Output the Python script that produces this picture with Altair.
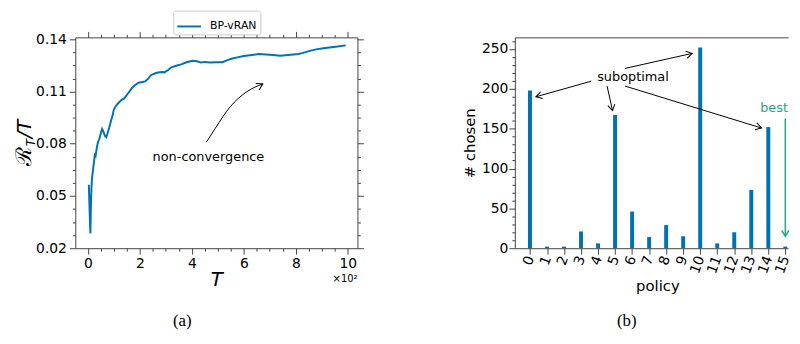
import altair as alt
import pandas as pd

# ---------------- data ----------------
T_HUNDREDS = [0.04, 0.07, 0.10, 0.12, 0.14, 0.16, 0.20, 0.27, 0.30, 0.35, 0.39, 0.45, 0.50, 0.55,
              0.60, 0.66, 0.71, 0.76, 0.82, 0.88, 0.95, 1.00, 1.05, 1.15, 1.30, 1.40, 1.50, 1.60,
              1.70, 1.80, 1.95, 2.10, 2.20, 2.30, 2.44, 2.60, 2.70, 2.85, 2.95, 3.10, 3.21, 3.40,
              3.59, 3.80, 4.03, 4.20, 4.35, 4.50, 4.70, 4.92, 5.17, 5.30, 5.49, 5.75, 6.00, 6.30,
              6.57, 6.85, 7.14, 7.40, 7.60, 7.90, 8.10, 8.28, 8.50, 8.78, 9.00, 9.29, 9.60, 9.92]
REGRET = [0.0564, 0.0420, 0.0285, 0.0450, 0.0540, 0.0598, 0.0650, 0.0735, 0.0730, 0.0780, 0.0807,
          0.0830, 0.0860, 0.0885, 0.0870, 0.0845, 0.0838, 0.0860, 0.0890, 0.0925, 0.0960, 0.0995,
          0.1010, 0.1030, 0.1052, 0.1060, 0.1080, 0.1100, 0.1120, 0.1135, 0.1150, 0.1155, 0.1158,
          0.1170, 0.1195, 0.1205, 0.1209, 0.1212, 0.1210, 0.1225, 0.1239, 0.1248, 0.1256, 0.1268,
          0.1277, 0.1274, 0.1266, 0.1270, 0.1266, 0.1268, 0.1268, 0.1276, 0.1287, 0.1296, 0.1304,
          0.1310, 0.1315, 0.1313, 0.1309, 0.1305, 0.1308, 0.1313, 0.1315, 0.1322, 0.1332, 0.1342,
          0.1347, 0.1353, 0.1358, 0.1365]
SERIES = "BP-vRAN"

POLICIES = list(range(16))
CHOSEN = [198, 2, 2, 21, 6, 167, 46, 14, 29, 15, 252, 6, 20, 73, 152, 2]

# curved "non-convergence" arrow (data coordinates of panel a)
NC_X = [4.56, 4.90, 5.48, 6.12, 6.73]
NC_Y = [0.0809, 0.0888, 0.1013, 0.1099, 0.1144]
NC_LABEL = "non-convergence"
NC_LABEL_POS = (4.64, 0.0723)

# "suboptimal" arrows (data coordinates of panel b)
SUB_X0 = [3.60, 4.53, 5.58, 5.58]
SUB_Y0 = [209.6, 203.5, 225.6, 203.5]
SUB_X1 = [0.35, 4.85, 9.53, 13.60]
SUB_Y1 = [190.0, 172.6, 244.5, 150.8]
SUB_ANGLE = [164, 78, 347, 17]
SUB_LABEL = "suboptimal"
SUB_LABEL_POS = (6.05, 214.5)

BEST_LABEL = "best"
BEST_LABEL_POS = (15.16, 176)
BEST_ARROW = (15, 162.7, 15, 15.0)

# ---------------- style ----------------
BLUE = "#0072B2"
GREEN = "#2aa57f"
FONT = "DejaVu Sans"
AX = "#444444"
W1, H1 = 285, 213
W2, H2 = 276, 213
XD1 = [-0.48, 10.37]
YD1 = [0.02, 0.1411]
XD2 = [-0.89, 15.16]
YD2 = [0, 264.6]
CHEVRON = "M-1,-0.6L0,0L-1,0.6"

x1_vals = [i * 0.5 for i in range(21)]
y1_vals = [round(0.02 + i * 0.0075, 4) for i in range(17)]
y2_vals = list(range(0, 261, 10))

x1_major = "datum.value % 2 == 0"
y1_major = "abs((datum.value - 0.02) / 0.03 - round((datum.value - 0.02) / 0.03)) < 0.01"
y2_major = "datum.value % 50 == 0"

xs1 = alt.Scale(domain=XD1, nice=False, zero=False)
ys1 = alt.Scale(domain=YD1, nice=False, zero=False)
xs2 = alt.Scale(domain=XD2, nice=False, zero=False, padding=0)
ys2 = alt.Scale(domain=YD2, nice=False, zero=False, padding=0)

common_axis = dict(grid=False, domain=True, ticks=True, domainColor=AX, tickColor=AX,
                   domainWidth=1, tickWidth=1, domainOpacity=1, tickOpacity=1, zindex=1,
                   labelColor="black", labelFont=FONT, labelFontSize=14, titleFont=FONT,
                   titleColor="black", titleFontWeight="normal", labelFlush=False,
                   labelOverlap=False)

legend_common = dict(title=None, orient="none", legendX=99, legendY=-27,
                     labelFont=FONT, labelFontSize=11, labelColor="black", labelOffset=8,
                     strokeColor="#cccccc", fillColor="white", padding=3, cornerRadius=2)

# ---------------- panel (a) ----------------
line_df = pd.DataFrame({"t": T_HUNDREDS, "r": REGRET, "series": SERIES})

line = alt.Chart(line_df).mark_line(strokeWidth=2).encode(
    x=alt.X("t:Q", scale=xs1, axis=alt.Axis(
        orient="bottom", values=x1_vals, title="T", titleFontSize=20, titleFontStyle="italic",
        titlePadding=0,
        labelExpr=f"{x1_major} ? format(datum.value, 'd') : ''",
        tickSize={"condition": {"test": x1_major, "value": 6}, "value": 3},
        labelPadding=2, **common_axis)),
    y=alt.Y("r:Q", scale=ys1, axis=alt.Axis(
        orient="left", values=y1_vals, title=None,
        labelExpr=f"{y1_major} ? format(datum.value, '.2f') : ''",
        tickSize={"condition": {"test": y1_major, "value": 6}, "value": 3},
        labelPadding=3, **common_axis)),
    color=alt.Color("series:N", scale=alt.Scale(domain=[SERIES], range=[BLUE]),
                    legend=alt.Legend(symbolType="stroke", symbolSize=576, symbolStrokeWidth=2,
                                      **legend_common)),
)

mirror = alt.Chart(line_df).mark_line(opacity=0).encode(
    x=alt.X("t:Q", scale=xs1, axis=alt.Axis(
        orient="top", values=x1_vals, title=None, labels=False,
        tickSize={"condition": {"test": x1_major, "value": 6}, "value": 3}, **common_axis)),
    y=alt.Y("r:Q", scale=ys1, axis=alt.Axis(
        orient="right", values=y1_vals, title=None, labels=False,
        tickSize={"condition": {"test": y1_major, "value": 6}, "value": 3}, **common_axis)),
)

nc_df = pd.DataFrame({"x": NC_X, "y": NC_Y, "o": list(range(len(NC_X)))})
nc_curve = alt.Chart(nc_df).mark_line(color="black", strokeWidth=1, interpolate="monotone").encode(
    x=alt.X("x:Q", scale=xs1, axis=None), y=alt.Y("y:Q", scale=ys1, axis=None), order="o:Q")
nc_head_df = pd.DataFrame({"x": [NC_X[-1]], "y": [NC_Y[-1]], "a": [332]})
nc_head = alt.Chart(nc_head_df).mark_point(shape=CHEVRON, size=144, filled=False, color="black",
                                           strokeWidth=1, opacity=1).encode(
    x=alt.X("x:Q", scale=xs1, axis=None), y=alt.Y("y:Q", scale=ys1, axis=None),
    angle=alt.Angle("a:Q", scale=None))
nc_text = alt.Chart(pd.DataFrame({"x": [NC_LABEL_POS[0]], "y": [NC_LABEL_POS[1]], "t": [NC_LABEL]})
                    ).mark_text(font=FONT, fontSize=13, color="black").encode(
    x=alt.X("x:Q", scale=xs1, axis=None), y=alt.Y("y:Q", scale=ys1, axis=None), text="t:N")

one = pd.DataFrame({"k": [0]})
ytitle_R = alt.Chart(one).mark_text(text="ℛ", font="DejaVu Serif", fontSize=22, angle=270,
                                    align="left", baseline="alphabetic", color="black").encode(
    x=alt.value(-45), y=alt.value(130))
ytitle_sub = alt.Chart(one).mark_text(text="T", font=FONT, fontSize=12, fontStyle="italic", angle=270,
                                      align="left", baseline="alphabetic", color="black").encode(
    x=alt.value(-41), y=alt.value(110))
ytitle_rest = alt.Chart(one).mark_text(text="/T", font=FONT, fontSize=20, fontStyle="italic", angle=270,
                                       align="left", baseline="alphabetic", color="black").encode(
    x=alt.value(-45), y=alt.value(102))
xscale_note = alt.Chart(one).mark_text(text="×10²", font=FONT, fontSize=10, align="right",
                                       baseline="middle", color="black").encode(
    x=alt.value(W1), y=alt.value(H1 + 31))
cap_a = alt.Chart(one).mark_text(text="(a)", font="Liberation Serif", fontSize=17,
                                 baseline="middle", color="black").encode(
    x=alt.value(108), y=alt.value(287))

panel_a = alt.layer(line, mirror, nc_curve, nc_head, nc_text, ytitle_R, ytitle_sub, ytitle_rest,
                    xscale_note, cap_a).resolve_axis(x="independent", y="independent").properties(
    width=W1, height=H1)

# ---------------- panel (b) ----------------
bar_df = pd.DataFrame({"policy": POLICIES, "chosen": CHOSEN, "series": SERIES})
bars = alt.Chart(bar_df).mark_bar(size=4).encode(
    x=alt.X("policy:Q", scale=xs2, axis=alt.Axis(
        orient="bottom", values=POLICIES, title="policy", titleFontSize=15, titleX=144,
        labelAngle=290, labelAlign="right", labelBaseline="middle", tickSize=6, labelPadding=2,
        format="d", **common_axis)),
    y=alt.Y("chosen:Q", scale=ys2, axis=alt.Axis(
        orient="left", values=y2_vals, title="# chosen", titleFontSize=15,
        labelExpr=f"{y2_major} ? format(datum.value, 'd') : ''",
        tickSize={"condition": {"test": y2_major, "value": 6}, "value": 3},
        labelPadding=1, **common_axis)),
    color=alt.Color("series:N", scale=alt.Scale(domain=[SERIES], range=[BLUE]),
                    legend=alt.Legend(symbolType="M-1,-0.3L1,-0.3L1,0.3L-1,0.3Z", symbolSize=576,
                                      symbolStrokeWidth=0, symbolFillColor=BLUE, **legend_common)),
)

top_axis_b = dict(grid=False, domain=True, domainColor=AX, domainWidth=1, ticks=False,
                  labels=False, title=None, orient="top", zindex=1)
sub_df = pd.DataFrame({"x0": SUB_X0, "y0": SUB_Y0, "x1": SUB_X1, "y1": SUB_Y1, "a": SUB_ANGLE})
sub_rules = alt.Chart(sub_df).mark_rule(color="black", strokeWidth=1).encode(
    x=alt.X("x0:Q", scale=xs2, axis=alt.Axis(**top_axis_b)),
    y=alt.Y("y0:Q", scale=ys2, axis=None), x2="x1:Q", y2="y1:Q")
sub_heads = alt.Chart(sub_df).mark_point(shape=CHEVRON, size=144, filled=False, color="black",
                                         strokeWidth=1, opacity=1).encode(
    x=alt.X("x1:Q", scale=xs2, axis=None), y=alt.Y("y1:Q", scale=ys2, axis=None),
    angle=alt.Angle("a:Q", scale=None))
sub_text = alt.Chart(pd.DataFrame({"x": [SUB_LABEL_POS[0]], "y": [SUB_LABEL_POS[1]], "t": [SUB_LABEL]})
                     ).mark_text(font=FONT, fontSize=13, color="black").encode(
    x=alt.X("x:Q", scale=xs2, axis=None), y=alt.Y("y:Q", scale=ys2, axis=None), text="t:N")

best_df = pd.DataFrame({"x0": [BEST_ARROW[0]], "y0": [BEST_ARROW[1]], "x1": [BEST_ARROW[2]],
                        "y1": [BEST_ARROW[3]], "a": [90]})
best_rule = alt.Chart(best_df).mark_rule(color=GREEN, strokeWidth=1.5).encode(
    x=alt.X("x0:Q", scale=xs2, axis=None), y=alt.Y("y0:Q", scale=ys2, axis=None),
    x2="x1:Q", y2="y1:Q")
best_head = alt.Chart(best_df).mark_point(shape=CHEVRON, size=144, filled=False, color=GREEN,
                                          strokeWidth=1.5, opacity=1).encode(
    x=alt.X("x1:Q", scale=xs2, axis=None), y=alt.Y("y1:Q", scale=ys2, axis=None),
    angle=alt.Angle("a:Q", scale=None))
best_text = alt.Chart(pd.DataFrame({"x": [BEST_LABEL_POS[0]], "y": [BEST_LABEL_POS[1]], "t": [BEST_LABEL]})
                      ).mark_text(font=FONT, fontSize=13, color=GREEN, align="right").encode(
    x=alt.X("x:Q", scale=xs2, axis=None), y=alt.Y("y:Q", scale=ys2, axis=None), text="t:N")

cap_b = alt.Chart(one).mark_text(text="(b)", font="Liberation Serif", fontSize=17,
                                 baseline="middle", color="black").encode(
    x=alt.value(113), y=alt.value(287))

panel_b = alt.layer(bars, sub_rules, sub_heads, sub_text, best_rule, best_head, best_text, cap_b
                    ).resolve_axis(x="independent", y="independent").properties(width=W2, height=H2)

chart = alt.hconcat(panel_a, panel_b, spacing=99).properties(
    padding={"left": 5, "top": 0, "right": 0, "bottom": 0}
).configure(font=FONT).configure_view(strokeWidth=0)

chart.save("out.html", embed_options={"renderer": "svg", "actions": False})
